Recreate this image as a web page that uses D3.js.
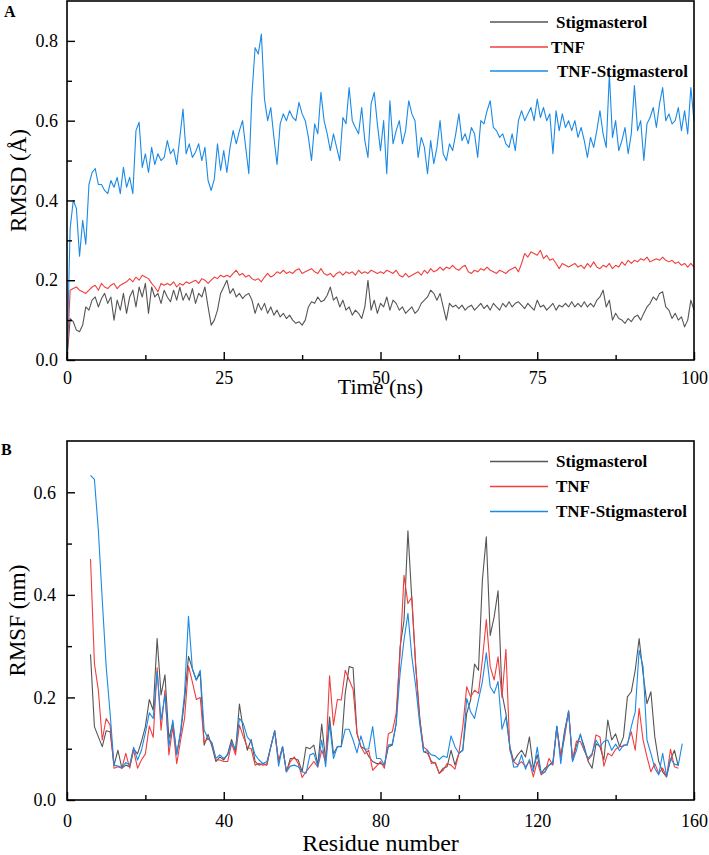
<!DOCTYPE html>
<html><head><meta charset="utf-8">
<script src="https://cdn.jsdelivr.net/npm/d3@7"></script>
<style>
body{margin:0;background:#fff}
svg{display:block}
text{font-family:"Liberation Serif","Times New Roman",serif;fill:#000}
</style>
</head><body>
<svg id="chart" width="709" height="855"></svg>
<script>
// ---------- data ----------
const seriesNames = ["Stigmasterol", "TNF", "TNF-Stigmasterol"];
const seriesColors = ["#555555", "#f23d3d", "#1a8ae6"];

// Panel A: RMSD vs time, sampled every 0.5 ns from 0 to 100 ns
const timeStep = 0.5;
const rmsdStig = [
0,0.104,0.096,0.075,0.071,0.0875,0.133,0.125,0.15,0.158,
0.133,0.154,0.167,0.142,0.158,0.1,0.15,0.125,0.167,0.117,
0.158,0.175,0.133,0.183,0.158,0.192,0.117,0.183,0.158,0.167,
0.142,0.175,0.158,0.146,0.175,0.15,0.183,0.15,0.167,0.15,
0.179,0.142,0.167,0.158,0.183,0.133,0.0875,0.1,0.125,0.167,
0.183,0.2,0.167,0.179,0.158,0.167,0.154,0.1625,0.167,0.15,
0.117,0.142,0.125,0.142,0.117,0.133,0.1125,0.125,0.108,0.117,
0.104,0.1125,0.1,0.092,0.096,0.0875,0.1,0.133,0.146,0.142,
0.158,0.146,0.15,0.1625,0.183,0.15,0.158,0.133,0.15,0.125,
0.133,0.1125,0.125,0.117,0.104,0.133,0.2,0.125,0.15,0.117,
0.142,
0.133,0.158,0.125,0.15,0.142,0.125,0.133,0.117,0.125,0.133,
0.117,0.125,0.142,0.15,0.158,0.175,0.167,0.15,0.167,0.133,
0.1,0.142,0.133,0.1375,0.129,0.1375,0.125,0.133,0.1375,0.125,
0.133,0.142,0.129,0.1375,0.125,0.142,0.133,0.125,0.142,0.133,
0.146,0.133,0.142,0.146,0.1375,0.129,0.142,0.133,0.125,0.15,
0.133,0.1375,0.125,0.133,0.142,0.125,0.1375,0.133,0.142,0.133,
0.146,0.133,0.142,0.133,0.146,0.133,0.142,0.133,0.15,0.158,
0.175,0.133,0.15,0.1,0.117,0.104,0.1,0.092,0.104,0.096,
0.108,0.1125,0.1,0.117,0.133,0.142,0.158,0.15,0.167,0.171,
0.133,0.125,0.104,0.117,0.1,0.108,0.083,0.1,0.15,0.125
];
const rmsdTNF = [
0,0.175,0.179,0.183,0.175,0.171,0.167,0.175,0.183,0.1875,
0.175,0.192,0.183,0.179,0.1875,0.192,0.179,0.1875,0.192,0.196,
0.204,0.196,0.208,0.2,0.2125,0.208,0.204,0.192,0.183,0.171,
0.192,0.1875,0.192,0.1875,0.196,0.183,0.192,0.1875,0.196,0.192,
0.196,0.2,0.192,0.204,0.2,0.192,0.2,0.208,0.204,0.2125,
0.208,0.2125,0.208,0.217,0.225,0.2125,0.217,0.208,0.2125,0.204,
0.2,0.204,0.196,0.208,0.217,0.208,0.2125,0.221,0.217,0.225,
0.217,0.221,0.217,0.225,0.229,0.217,0.221,0.225,0.229,0.221,
0.217,0.229,0.217,0.2125,0.217,0.208,0.217,0.221,0.2125,0.221,
0.217,0.221,0.2125,0.225,0.217,0.221,0.217,0.225,0.221,0.217,
0.221,
0.217,0.225,0.221,0.217,0.225,0.2125,0.208,0.217,0.208,0.2125,
0.217,0.221,0.2125,0.225,0.217,0.229,0.221,0.225,0.233,0.225,
0.233,0.229,0.2375,0.229,0.225,0.233,0.2375,0.221,0.217,0.225,
0.221,0.229,0.225,0.233,0.225,0.221,0.217,0.225,0.221,0.217,
0.225,0.229,0.233,0.221,0.242,0.267,0.258,0.271,0.267,0.2625,
0.275,0.254,0.2625,0.25,0.254,0.242,0.229,0.242,0.2375,0.233,
0.2375,0.242,0.233,0.2375,0.229,0.242,0.233,0.246,0.233,0.229,
0.2375,0.233,0.242,0.229,0.2375,0.233,0.246,0.2375,0.25,0.242,
0.25,0.246,0.254,0.25,0.258,0.246,0.25,0.254,0.25,0.258,
0.25,0.246,0.25,0.242,0.246,0.2375,0.242,0.233,0.242,0.233
];
const rmsdComplex = [
0,0.33,0.40,0.38,0.26,0.35,0.29,0.44,0.47,0.48,
0.44,0.44,0.425,0.417,0.45,0.433,0.458,0.417,0.483,0.433,
0.458,0.417,0.575,0.596,0.483,0.517,0.47,0.533,0.49,0.517,
0.5,0.508,0.55,0.517,0.529,0.49,0.558,0.629,0.517,0.542,
0.508,0.521,0.542,0.5,0.533,0.45,0.425,0.454,0.542,0.475,
0.525,0.47,0.533,0.575,0.542,0.575,0.6,0.533,0.467,0.667,
0.783,0.767,0.817,0.654,0.6,0.633,0.558,0.49,0.592,0.617,
0.6,0.625,0.608,0.6,0.646,0.617,0.6,0.558,0.5,0.592,
0.567,0.671,0.6,0.567,0.525,0.567,0.533,0.5,0.608,0.592,
0.683,0.6,0.583,0.567,0.633,0.55,0.508,0.642,0.671,0.592,
0.525,
0.6,0.467,0.65,0.542,0.575,0.6,0.542,0.575,0.65,0.617,
0.6,0.508,0.558,0.533,0.467,0.55,0.492,0.533,0.6,0.517,
0.5,0.542,0.525,0.567,0.617,0.55,0.567,0.542,0.583,0.567,
0.508,0.6,0.592,0.625,0.65,0.583,0.575,0.558,0.567,0.542,
0.533,0.567,0.525,0.6,0.625,0.6,0.617,0.633,0.6,0.654,
0.608,0.633,0.6,0.617,0.517,0.625,0.575,0.617,0.583,0.6,
0.575,0.6,0.558,0.583,0.55,0.508,0.558,0.533,0.575,0.625,
0.567,0.533,0.717,0.558,0.6,0.525,0.55,0.583,0.517,0.567,
0.688,0.575,0.6,0.5,0.592,0.608,0.633,0.583,0.642,0.683,
0.6,0.617,0.592,0.6,0.633,0.575,0.625,0.567,0.683,0.6
];

// Panel B: RMSF per residue, starting at residue 6
const residueStart = 6;
const rmsfStig = [
0.284,0.143,0.123,0.104,0.135,0.133,0.068,0.097,0.062,0.068,
0.065,0.10,0.09,0.114,0.143,0.196,0.175,0.315,0.205,0.244,
0.12,0.15,0.09,0.13,0.195,0.28,0.256,0.234,0.247,0.107,
0.128,0.104,0.075,0.084,0.078,0.09,0.118,0.094,0.187,0.136,
0.097,0.118,0.075,0.068,0.071,0.068,0.104,0.135,0.075,0.104,
0.055,0.081,0.081,0.078,0.055,0.103,0.10,0.107,0.068,0.148,
0.078,0.162,0.09,0.104,0.104,0.208,0.26,0.258,0.13,0.104,
0.10,0.085,0.075,0.071,
0.071,0.068,0.104,0.107,0.149,0.299,0.35,0.525,0.39,0.26,
0.162,0.094,0.091,0.075,0.071,0.052,0.062,0.065,0.097,0.068,
0.091,0.097,0.169,0.195,0.265,0.253,0.429,0.513,0.321,0.357,
0.408,0.208,0.169,0.104,0.075,0.088,0.097,0.084,0.123,0.062,
0.088,0.052,0.062,0.068,0.075,0.143,0.084,0.136,0.172,0.078,
0.107,0.127,0.104,0.075,0.062,0.11,0.104,0.078,0.156,0.117,
0.129,0.104,0.123,0.201,0.211,0.253,0.315,0.247,0.188,0.211,
0.123,0.075,0.055,0.045,0.078,0.097,0.066
];
const rmsfTNF = [
0.47,0.266,0.214,0.117,0.159,0.146,0.062,0.065,0.062,0.091,
0.062,0.097,0.062,0.078,0.09,0.144,0.122,0.258,0.136,0.214,
0.088,0.143,0.071,0.117,0.159,0.261,0.23,0.196,0.2,0.112,
0.12,0.11,0.078,0.078,0.075,0.075,0.11,0.088,0.146,0.123,
0.103,0.10,0.068,0.071,0.068,0.07,0.104,0.135,0.075,0.103,
0.055,0.075,0.084,0.071,0.044,0.055,0.065,0.075,0.064,0.097,
0.075,0.242,0.146,0.196,0.195,0.253,0.234,0.216,0.13,0.104,
0.09,0.097,0.058,0.066,
0.075,0.062,0.129,0.133,0.169,0.286,0.438,0.383,0.396,0.26,
0.156,0.103,0.097,0.071,0.073,0.052,0.058,0.071,0.068,0.06,
0.091,0.143,0.221,0.201,0.214,0.208,0.273,0.352,0.26,0.234,
0.279,0.2,0.294,0.097,0.075,0.068,0.075,0.065,0.075,0.045,
0.075,0.049,0.055,0.081,0.068,0.143,0.084,0.123,0.174,0.078,
0.115,0.114,0.097,0.078,0.088,0.127,0.123,0.066,0.091,0.086,
0.099,0.104,0.105,0.11,0.133,0.097,0.179,0.117,0.084,0.055,
0.071,0.052,0.062,0.045,0.099,0.065,0.062
];
const rmsfComplex = [
0.633,0.625,0.526,0.39,0.26,0.169,0.068,0.066,0.064,0.073,
0.068,0.103,0.078,0.097,0.131,0.17,0.159,0.25,0.156,0.205,
0.105,0.156,0.088,0.136,0.208,0.358,0.255,0.234,0.253,0.136,
0.12,0.112,0.081,0.088,0.081,0.088,0.112,0.10,0.159,0.149,
0.123,0.114,0.088,0.078,0.071,0.075,0.103,0.135,0.066,0.104,
0.055,0.066,0.068,0.065,0.055,0.052,0.088,0.091,0.065,0.117,
0.065,0.149,0.081,0.104,0.105,0.138,0.138,0.117,0.092,0.125,
0.099,0.10,0.143,0.081,
0.081,0.068,0.107,0.109,0.149,0.247,0.312,0.364,0.279,0.221,
0.149,0.094,0.096,0.088,0.086,0.079,0.086,0.083,0.125,0.104,
0.091,0.097,0.198,0.172,0.159,0.195,0.231,0.287,0.221,0.208,
0.231,0.138,0.162,0.104,0.064,0.065,0.088,0.06,0.079,0.055,
0.103,0.052,0.055,0.068,0.071,0.144,0.071,0.133,0.174,0.075,
0.097,0.129,0.097,0.081,0.091,0.117,0.104,0.114,0.117,0.097,
0.109,0.096,0.107,0.107,0.143,0.172,0.292,0.26,0.117,0.091,
0.062,0.049,0.091,0.047,0.081,0.07,0.068,0.11
];

// Axis ticks
const rmsdXTicks = [0, 25, 50, 75, 100];
const rmsdXMinor = [12.5, 37.5, 62.5, 87.5];
const rmsdYTicks = [0, 0.2, 0.4, 0.6, 0.8];
const rmsdYMinor = [0.1, 0.3, 0.5, 0.7];
const rmsfXTicks = [0, 40, 80, 120, 160];
const rmsfXMinor = [20, 60, 100, 140];
const rmsfYTicks = [0, 0.2, 0.4, 0.6];
const rmsfYMinor = [0.1, 0.3, 0.5];

// ---------- drawing ----------
const svg = d3.select("#chart");
const fmt = d3.format(".1f");

function drawPanel(o) {
  const g = svg.append("g");
  const x = d3.scaleLinear().domain(o.xDomain).range([o.left, o.right]);
  const y = d3.scaleLinear().domain(o.yDomain).range([o.bottom, o.top]);

  // lines
  const line = d3.line().x(d => x(d[0])).y(d => y(d[1])).curve(d3.curveLinear);
  o.series.forEach((s, i) => {
    g.append("path")
      .datum(s)
      .attr("fill", "none")
      .attr("stroke", seriesColors[i])
      .attr("stroke-width", 1.1)
      .attr("stroke-linejoin", "round")
      .attr("d", line);
  });

  // frame
  g.append("rect")
    .attr("x", o.left).attr("y", o.top)
    .attr("width", o.right - o.left).attr("height", o.bottom - o.top)
    .attr("fill", "none").attr("stroke", "#000").attr("stroke-width", 1.6);

  // axes
  const styleAxis = sel => {
    sel.select(".domain").remove();
    sel.selectAll(".tick line").attr("stroke", "#000").attr("stroke-width", 1.4);
    sel.selectAll("text").attr("font-size", 18).style("font-family", '"Liberation Serif","Times New Roman",serif');
  };
  g.append("g").attr("transform", `translate(0,${o.bottom})`)
    .call(d3.axisBottom(x).tickValues(o.xTicks).tickFormat(d3.format("d")).tickSizeInner(-8).tickSizeOuter(0).tickPadding(o.xPad))
    .call(styleAxis);
  g.append("g").attr("transform", `translate(0,${o.bottom})`)
    .call(d3.axisBottom(x).tickValues(o.xMinor).tickFormat("").tickSizeInner(-5).tickSizeOuter(0))
    .call(styleAxis);
  g.append("g").attr("transform", `translate(${o.left},0)`)
    .call(d3.axisLeft(y).tickValues(o.yTicks).tickFormat(fmt).tickSizeInner(-8).tickSizeOuter(0).tickPadding(o.yPad))
    .call(styleAxis);
  g.append("g").attr("transform", `translate(${o.left},0)`)
    .call(d3.axisLeft(y).tickValues(o.yMinor).tickFormat("").tickSizeInner(-5).tickSizeOuter(0))
    .call(styleAxis);

  // titles
  g.append("text")
    .attr("x", (o.left + o.right) / 2).attr("y", o.xTitleY)
    .attr("text-anchor", "middle").attr("font-size", o.xTitleSize)
    .text(o.xTitle);
  g.append("text")
    .attr("transform", `translate(${o.yTitleX},${(o.top + o.bottom) / 2}) rotate(-90)`)
    .attr("text-anchor", "middle").attr("font-size", 23)
    .text(o.yTitle);

  // panel letter
  g.append("text").attr("x", o.letterX).attr("y", o.letterY)
    .attr("font-size", 16).attr("font-weight", "bold").text(o.letter);

  // legend
  seriesNames.forEach((name, i) => {
    const ly = o.legendY[i];
    g.append("line").attr("x1", 490).attr("x2", 548).attr("y1", ly).attr("y2", ly)
      .attr("stroke", seriesColors[i]).attr("stroke-width", 1.3);
    g.append("text").attr("x", o.legendTextX[i]).attr("y", ly).attr("dy", "0.35em")
      .attr("font-size", 17).attr("font-weight", "bold").text(name);
  });
}

const timeAxis = rmsdStig.map((_, i) => i * timeStep);
const toPairs = (xs, ys) => ys.map((v, i) => [xs[i], v]);

drawPanel({
  left: 67, right: 694, top: 1, bottom: 360,
  xDomain: [0, 100], yDomain: [0, 0.9],
  xTicks: rmsdXTicks, xMinor: rmsdXMinor, yTicks: rmsdYTicks, yMinor: rmsdYMinor,
  xPad: 11, yPad: 9,
  series: [toPairs(timeAxis, rmsdStig), toPairs(timeAxis, rmsdTNF), toPairs(timeAxis, rmsdComplex)],
  xTitle: "Time (ns)", xTitleY: 394, xTitleSize: 22,
  yTitle: "RMSD (Å)", yTitleX: 26,
  letter: "A", letterX: 4, letterY: 17,
  legendY: [22, 47, 71], legendTextX: [556, 551, 557]
});

const residues = rmsfComplex.map((_, i) => residueStart + i);
drawPanel({
  left: 67, right: 694, top: 441, bottom: 800,
  xDomain: [0, 160], yDomain: [0, 0.7],
  xTicks: rmsfXTicks, xMinor: rmsfXMinor, yTicks: rmsfYTicks, yMinor: rmsfYMinor,
  xPad: 14, yPad: 11,
  series: [toPairs(residues, rmsfStig), toPairs(residues, rmsfTNF), toPairs(residues, rmsfComplex)],
  xTitle: "Residue number", xTitleY: 851, xTitleSize: 24,
  yTitle: "RMSF (nm)", yTitleX: 25,
  letter: "B", letterX: 1, letterY: 455,
  legendY: [461.5, 486.5, 511.5], legendTextX: [556, 556, 556]
});
</script>
</body></html>
